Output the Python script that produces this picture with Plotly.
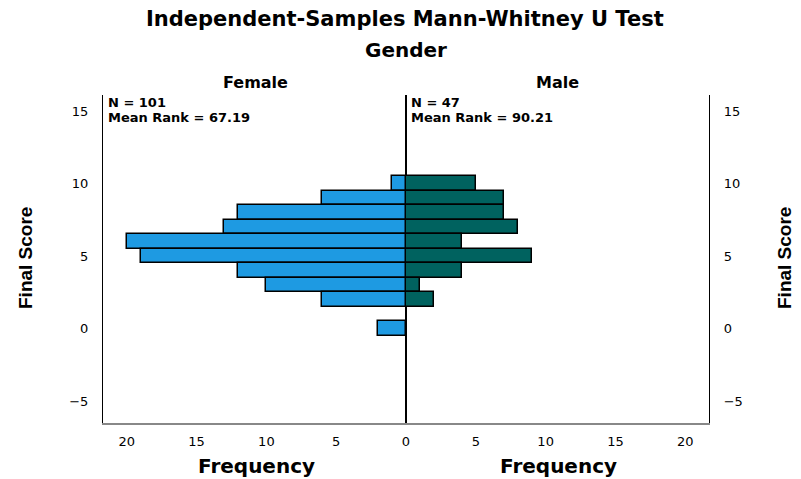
import plotly.graph_objects as go

# Data
score_bins = [10, 9, 8, 7, 6, 5, 4, 3, 2, 0]
female_counts = [1, 6, 12, 13, 20, 19, 12, 10, 6, 2]
male_bins = [10, 9, 8, 7, 6, 5, 4, 3, 2]
male_counts = [5, 7, 7, 8, 4, 9, 4, 1, 2]
y_ticks = [-5, 0, 5, 10, 15]
left_x_ticks = [20, 15, 10, 5, 0]
right_x_ticks = [5, 10, 15, 20]
groups = ["Female", "Male"]
female_stats = ["N = 101", "Mean Rank = 67.19"]
male_stats = ["N = 47", "Mean Rank = 90.21"]
main_title = "Independent-Samples Mann-Whitney U Test"
sub_title = "Gender"
x_title = "Frequency"
y_title = "Final Score"

FONT = "DejaVu Sans"
YFONT = "Liberation Sans"

# page has an 8px body margin; size the figure so it fills the 801x479 window
OFF = 8
W, H = 801 - OFF, 479 - OFF
L, R, T, B = 103 - OFF, 92, 95 - OFF, 56
PH = H - T - B
PW = W - L - R

fig = go.Figure()
fig.add_trace(go.Bar(y=score_bins, x=female_counts, orientation="h", width=1,
                     marker=dict(color="#1e9ae2", line=dict(color="black", width=1.5)),
                     xaxis="x", yaxis="y", showlegend=False))
fig.add_trace(go.Bar(y=male_bins, x=male_counts, orientation="h", width=1,
                     marker=dict(color="#00625f", line=dict(color="black", width=1.5)),
                     xaxis="x2", yaxis="y2", showlegend=False))

tickfont = dict(family=FONT, size=13, color="black")

def xa(domain, rng, ticks):
    return dict(domain=domain, range=rng, tickvals=ticks,
                ticktext=[str(v) for v in ticks], tickfont=tickfont,
                showgrid=False, zeroline=False, showline=True, linecolor="#888888",
                linewidth=1.5, ticks="", ticklabelstandoff=6, automargin=False)

def ya(anchor, side):
    return dict(anchor=anchor, side=side, range=[-6.5, 16.1], tickvals=y_ticks,
                ticktext=["\u22125" if v < 0 else str(v) for v in y_ticks],
                tickfont=tickfont, showgrid=False, zeroline=False, showline=True,
                linecolor="black", linewidth=1.2, mirror=True, ticks="",
                ticklabelstandoff=11, automargin=False)

fig.update_layout(
    width=W, height=H,
    margin=dict(l=L, r=R, t=T, b=B, autoexpand=False),
    plot_bgcolor="white", paper_bgcolor="white",
    bargap=0,
    xaxis=xa([0, 0.5], [21.7, 0], left_x_ticks),
    xaxis2=xa([0.5, 1], [0, 21.7], right_x_ticks),
    yaxis=ya("x", "left"),
    yaxis2=ya("x2", "right"),
)

def py(ypage):
    return 1 - (ypage - OFF - T) / PH

def px(xpage):
    return (xpage - OFF - L) / PW

def bold(size, family=FONT):
    return dict(family=family, size=size, color="black", weight="bold")

anns = [
    dict(text=main_title, x=px(405), y=py(18.5), xanchor="center", font=bold(21)),
    dict(text=sub_title, x=px(406), y=py(50.5), xanchor="center", font=bold(20)),
    dict(text=groups[0], x=px(255), y=py(83), xanchor="center", font=bold(16)),
    dict(text=groups[1], x=px(557), y=py(83), xanchor="center", font=bold(16)),
    dict(text=x_title, x=px(256), y=py(466), xanchor="center", font=bold(20)),
    dict(text=x_title, x=px(558), y=py(466), xanchor="center", font=bold(20)),
    dict(text=y_title, x=px(25), y=py(258), xanchor="center", font=bold(19, YFONT), textangle=-90),
    dict(text=y_title, x=px(784), y=py(258), xanchor="center", font=bold(19, YFONT), textangle=-90),
]
stat_font = bold(13)
for i, line in enumerate(female_stats):
    anns.append(dict(text=line, x=px(106), y=py(102 + 15 * i), xanchor="left", font=stat_font))
for i, line in enumerate(male_stats):
    anns.append(dict(text=line, x=px(409), y=py(102 + 15 * i), xanchor="left", font=stat_font))

fig.update_layout(annotations=[dict(text=a["text"], x=a["x"], y=a["y"], xref="paper", yref="paper",
                                    xanchor=a["xanchor"], yanchor="middle", showarrow=False,
                                    textangle=a.get("textangle", 0), font=a["font"]) for a in anns])

fig.write_html("out.html")
